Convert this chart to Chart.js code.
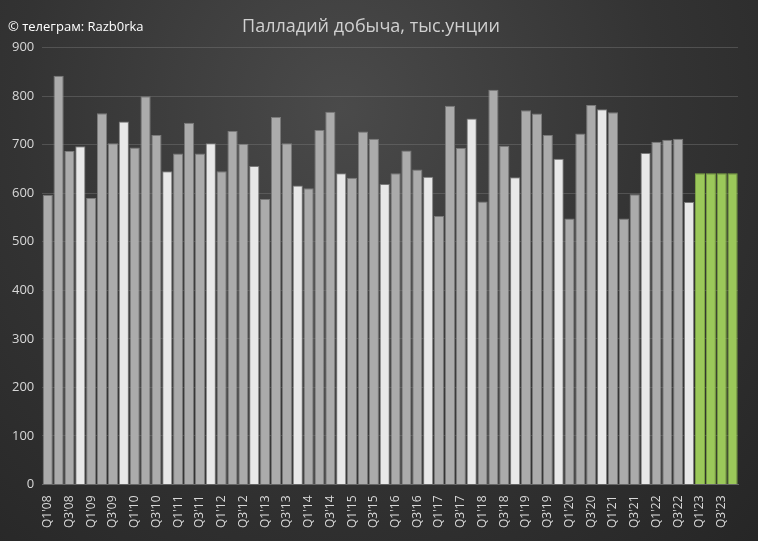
<!DOCTYPE html>
<html><head><meta charset="utf-8">
<script src="https://cdn.jsdelivr.net/npm/chart.js@4"></script>
<style>
html,body{margin:0;padding:0;}
body{width:758px;height:541px;background:radial-gradient(ellipse at 45% 20%,#4a4a4a 0%,#333 55%,#262626 100%);position:relative;font-family:"Open Sans",sans-serif;}
#wm{position:absolute;left:8px;top:17px;color:#fff;font-size:13px;}
#c{position:absolute;left:0;top:0;}
</style></head><body>
<canvas id="c" width="758" height="541"></canvas>
<div id="wm">© телеграм: Razb0rka</div>
<script>
var years = ['08','09','10','11','12','13','14','15','16','17','18','19','20','21','22','23'];
var quarters = ['Q1','Q2','Q3','Q4'];
var labels = [];
years.forEach(function(y){ quarters.forEach(function(q){ labels.push(q + "'" + y) }) });

var production = [
  597, 842, 687, 697,
  590, 765, 703, 748,
  694, 800, 720, 645,
  682, 745, 682, 703,
  645, 728, 702, 656,
  588, 757, 703, 616,
  610, 730, 768, 641,
  632, 727, 712, 619,
  641, 688, 649, 634,
  553, 780, 693, 754,
  583, 813, 698, 633,
  771, 764, 720, 671,
  548, 723, 782, 773,
  767, 548, 598, 683,
  706, 710, 712, 582,
  641, 641, 641, 641
];
var forecastFrom = 60;

var colors = production.map(function(v, i){
  if (i >= forecastFrom) return '#9bc85a';
  return (i % 4 === 3) ? '#e8e8e8' : '#ababab';
});
var borders = production.map(function(v, i){
  return i >= forecastFrom ? '#7fa844' : '#7a7a7a';
});

new Chart(document.getElementById('c'), {
  type: 'bar',
  data: { labels: labels, datasets: [{ data: production, backgroundColor: colors, borderColor: borders, borderWidth: 1, categoryPercentage: 1, barPercentage: 0.94 }] },
  options: {
    responsive: false, animation: false,
    layout: { padding: { left: 4, right: 20, top: 6, bottom: 10 } },
    plugins: {
      legend: { display: false }, tooltip: { enabled: false },
      title: { display: true, text: 'Палладий добыча, тыс.унции', color: '#d0d0d0', font: { size: 18, family: 'Open Sans', weight: 'normal' }, padding: { top: 10, bottom: 10 } }
    },
    scales: {
      x: {
        grid: { display: false },
        border: { color: '#666' },
        ticks: { color: '#d8d8d8', font: { size: 12, family: 'Open Sans' }, autoSkip: false, maxRotation: 90, minRotation: 90,
          callback: function(v, i){ return i % 2 === 0 ? labels[i] : '' } }
      },
      y: {
        min: 0, max: 900,
        grid: { color: 'rgba(120,120,120,0.45)', drawTicks: false },
        border: { display: false },
        ticks: { stepSize: 100, color: '#d8d8d8', font: { size: 13, family: 'Open Sans' }, padding: 8 }
      }
    }
  }
});
</script>
</body></html>
